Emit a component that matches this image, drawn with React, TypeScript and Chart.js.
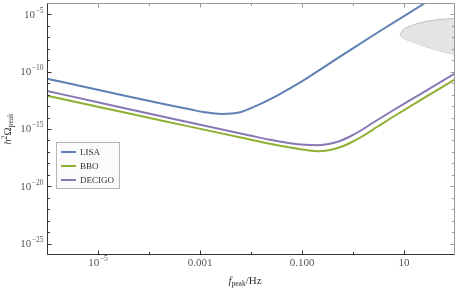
import { useEffect, useRef } from 'react';
import { Chart, registerables } from 'chart.js';
Chart.register(...registerables);

// ---- data ----
const lisaFreq = [1e-6, 1.094e-5, 1.644e-4, 6.37e-4, 1.253e-3, 2.665e-3, 6.085e-3, 1.294e-2, 2.737e-2, 5.82e-2, 0.1236, 0.556, 3.38, 25.8, 63.7];
const lisaOmega = [2.46e-11, 2.44e-12, 1.75e-13, 5.25e-14, 2.87e-14, 2.04e-14, 2.87e-14, 1.08e-13, 5.4e-13, 3.57e-12, 2.67e-11, 2.05e-9, 3.6e-7, 1.0e-4, 1.31e-3];

const bboFreq = [1e-6, 1.094e-5, 1.644e-4, 9.56e-3, 2.36e-2, 5.82e-2, 0.1145, 0.2254, 0.3875, 0.6086, 0.956, 1.5, 2.955, 5.82, 20.6, 100];
const bboOmega = [8.07e-13, 7.83e-14, 5.86e-15, 1.21e-16, 5.21e-17, 2.43e-17, 1.53e-17, 1.15e-17, 1.62e-17, 2.96e-17, 7.33e-17, 2.21e-16, 1.5e-15, 1.01e-14, 3.2e-13, 2.18e-11];

const decigoFreq = [1e-6, 1.094e-5, 1.644e-4, 9.56e-3, 2.36e-2, 5.82e-2, 0.1145, 0.206, 0.354, 0.556, 0.873, 1.372, 2.7, 5.82, 20.6, 100];
const decigoOmega = [2.08e-12, 1.98e-13, 1.36e-14, 2.7e-16, 1.14e-16, 5.75e-17, 4.18e-17, 3.85e-17, 5.1e-17, 8.95e-17, 2.21e-16, 6.68e-16, 4.52e-15, 3.72e-14, 1.07e-12, 7.29e-11];

// shaded signal region (upper / lower boundary)
const regionFreq = [8.4, 9.5, 13.1, 24, 50.8, 100];
const regionUpper = [1.5e-7, 4.3e-7, 9.5e-7, 2.2e-6, 3.6e-6, 4.5e-6];
const regionLower = [1.5e-7, 8.5e-8, 4.9e-8, 1.8e-8, 6.6e-9, 3.2e-9];

const xMin = 1e-6, xMax = 1e2;
const yMin = 1e-26, yMax = 1e-4;

const xTickValues = [1e-5, 1e-3, 1e-1, 10];
const xTickLabels = ['10^-5', '0.001', '0.100', '10'];
const yTickValues = [1e-5, 1e-10, 1e-15, 1e-20, 1e-25];
const yTickLabels = ['10^-5', '10^-10', '10^-15', '10^-20', '10^-25'];

const seriesNames = ['LISA', 'BBO', 'DECIGO'];
const seriesColors = ['#5e81b5', '#8fb032', '#8778b3'];

const SERIF = "'Liberation Serif', 'Times New Roman', serif";

function pts(xs: number[], ys: number[]) {
  return xs.map((x, i) => ({ x, y: ys[i] }));
}

function drawLabel(ctx: CanvasRenderingContext2D, label: string, x: number, y: number, align: 'right' | 'center') {
  const parts = label.split('^');
  const base = parts[0];
  const exp = parts.length > 1 ? parts[1].replace('-', '\u2212') : '';
  ctx.font = `11px ${SERIF}`;
  const wb = ctx.measureText(base).width;
  ctx.font = `7.5px ${SERIF}`;
  const we = exp ? ctx.measureText(exp).width + 0.5 : 0;
  const total = wb + we;
  const start = align === 'right' ? x - total : x - total / 2;
  ctx.textAlign = 'left';
  ctx.font = `11px ${SERIF}`;
  ctx.textBaseline = 'middle';
  ctx.fillText(base, start, y);
  if (exp) {
    ctx.font = `7.5px ${SERIF}`;
    ctx.textBaseline = 'alphabetic';
    ctx.fillText(exp, start + wb + 0.5, y - 2.2);
  }
}

type Piece = { t: string; font: string; dy: number };
function drawPieces(ctx: CanvasRenderingContext2D, pieces: Piece[], cx: number, baseY: number) {
  let total = 0;
  for (const p of pieces) { ctx.font = p.font; total += ctx.measureText(p.t).width; }
  let x = cx - total / 2;
  ctx.textAlign = 'left';
  ctx.textBaseline = 'alphabetic';
  for (const p of pieces) {
    ctx.font = p.font;
    ctx.fillText(p.t, x, baseY + p.dy);
    x += ctx.measureText(p.t).width;
  }
}

const overlay = {
  id: 'overlay',
  afterDatasetsDraw(chart: any) {
    const { ctx, chartArea: a, scales } = chart;
    const xs = scales.x, ys = scales.y;
    ctx.save();
    const L = Math.round(a.left) + 0.5, R = Math.round(a.right) - 0.5;
    const T = Math.round(a.top) + 0.5, B = Math.round(a.bottom) - 0.5;
    // frame
    ctx.lineWidth = 1;
    ctx.strokeStyle = '#9a9a9a';
    ctx.beginPath();
    ctx.moveTo(L, T); ctx.lineTo(R, T); ctx.lineTo(R, B);
    ctx.stroke();
    ctx.strokeStyle = '#333';
    ctx.beginPath();
    ctx.moveTo(L, T); ctx.lineTo(L, B); ctx.lineTo(R, B);
    ctx.stroke();

    // x ticks
    const xe0 = Math.ceil(Math.log10(xs.min) - 1e-9), xe1 = Math.floor(Math.log10(xs.max) + 1e-9);
    for (let e = xe0; e <= xe1; e++) {
      const v = Math.pow(10, e);
      const px = Math.round(xs.getPixelForValue(v)) + 0.5;
      if (px <= L + 1 || px >= R - 1) continue;
      const major = xTickValues.some((t) => Math.abs(Math.log10(t) - e) < 1e-6);
      const len = major ? 4 : 2.5;
      ctx.strokeStyle = '#333';
      ctx.beginPath(); ctx.moveTo(px, B); ctx.lineTo(px, B - len); ctx.stroke();
      ctx.strokeStyle = '#9a9a9a';
      ctx.beginPath(); ctx.moveTo(px, T); ctx.lineTo(px, T + len); ctx.stroke();
    }
    // y ticks
    const ye0 = Math.ceil(Math.log10(ys.min) - 1e-9), ye1 = Math.floor(Math.log10(ys.max) + 1e-9);
    for (let e = ye0; e <= ye1; e++) {
      const v = Math.pow(10, e);
      const py = Math.round(ys.getPixelForValue(v)) + 0.5;
      if (py <= T + 1 || py >= B - 1) continue;
      const major = yTickValues.some((t) => Math.abs(Math.log10(t) - e) < 1e-6);
      const len = major ? 4 : 2.5;
      ctx.strokeStyle = '#333';
      ctx.beginPath(); ctx.moveTo(L, py); ctx.lineTo(L + len, py); ctx.stroke();
      ctx.strokeStyle = '#9a9a9a';
      ctx.beginPath(); ctx.moveTo(R, py); ctx.lineTo(R - len, py); ctx.stroke();
    }

    // tick labels
    ctx.fillStyle = '#555';
    xTickValues.forEach((v, i) => {
      drawLabel(ctx, xTickLabels[i], xs.getPixelForValue(v), a.bottom + 8.5, 'center');
    });
    yTickValues.forEach((v, i) => {
      drawLabel(ctx, yTickLabels[i], a.left - 3.5, ys.getPixelForValue(v) + 0.5, 'right');
    });

    // axis titles
    ctx.fillStyle = '#333';
    drawPieces(ctx, [
      { t: 'f', font: `italic 11px ${SERIF}`, dy: 0 },
      { t: 'peak', font: `7.5px ${SERIF}`, dy: 2.6 },
      { t: '/Hz', font: `11px ${SERIF}`, dy: 0 },
    ], 245, 283.5);
    ctx.save();
    ctx.translate(10.5, (a.top + a.bottom) / 2);
    ctx.rotate(-Math.PI / 2);
    drawPieces(ctx, [
      { t: 'h', font: `italic 11px ${SERIF}`, dy: 0 },
      { t: '2', font: `7.5px ${SERIF}`, dy: -4 },
      { t: '\u03A9', font: `11px ${SERIF}`, dy: 0 },
      { t: 'peak', font: `7.5px ${SERIF}`, dy: 2.6 },
    ], 0, 0);
    ctx.restore();

    // legend
    const items = chart.data.datasets.filter((d: any) => d.showInLegend);
    const bx = 56.5, by = 142.5, bw = 63, bh = 46;
    ctx.fillStyle = '#fbfbfb';
    ctx.fillRect(bx, by, bw, bh);
    ctx.strokeStyle = '#b5b5b5';
    ctx.lineWidth = 1;
    ctx.strokeRect(bx, by, bw, bh);
    items.forEach((d: any, i: number) => {
      const yy = 152 + i * 14;
      ctx.strokeStyle = d.borderColor;
      ctx.lineWidth = 2;
      ctx.beginPath(); ctx.moveTo(61, yy); ctx.lineTo(76, yy); ctx.stroke();
      ctx.fillStyle = '#333';
      ctx.font = `9px ${SERIF}`;
      ctx.textAlign = 'left';
      ctx.textBaseline = 'middle';
      ctx.fillText(d.label, 80, yy + 0.5);
    });
    ctx.restore();
  },
};

export default function App() {
  const ref = useRef<HTMLCanvasElement | null>(null);
  useEffect(() => {
    document.body.style.margin = '0';
    const canvas = ref.current;
    if (!canvas) return;
    const lineSets = [
      pts(lisaFreq, lisaOmega),
      pts(bboFreq, bboOmega),
      pts(decigoFreq, decigoOmega),
    ].map((data, i) => ({
      label: seriesNames[i],
      data,
      borderColor: seriesColors[i],
      backgroundColor: seriesColors[i],
      borderWidth: 2,
      pointRadius: 0,
      cubicInterpolationMode: 'monotone' as const,
      fill: false,
      showInLegend: true,
      order: 1,
    }));
    const chart = new Chart(canvas, {
      type: 'line',
      data: {
        datasets: [
          {
            label: '',
            data: pts(regionFreq, regionUpper),
            borderColor: '#b3b3b3',
            backgroundColor: '#e4e4e4',
            borderWidth: 0.8,
            pointRadius: 0,
            tension: 0.4,
            fill: '+1',
            order: 2,
          } as any,
          {
            label: '',
            data: pts(regionFreq, regionLower),
            borderColor: '#b3b3b3',
            borderWidth: 0.8,
            pointRadius: 0,
            tension: 0.4,
            fill: false,
            order: 2,
          } as any,
          ...lineSets,
        ],
      },
      options: {
        animation: false,
        responsive: false,
        maintainAspectRatio: false,
        parsing: false as any,
        layout: { padding: { left: 47, right: 4, top: 3, bottom: 35 } },
        plugins: { legend: { display: false }, tooltip: { enabled: false } },
        scales: {
          x: { type: 'logarithmic', min: xMin, max: xMax, display: false },
          y: { type: 'logarithmic', min: yMin, max: yMax, display: false },
        },
      },
      plugins: [overlay],
    });
    return () => chart.destroy();
  }, []);
  return (
    <div style={{ position: 'absolute', left: 0, top: 0 }}>
      <canvas ref={ref} width={459} height={290} style={{ display: 'block', width: 459, height: 290 }} />
    </div>
  );
}
